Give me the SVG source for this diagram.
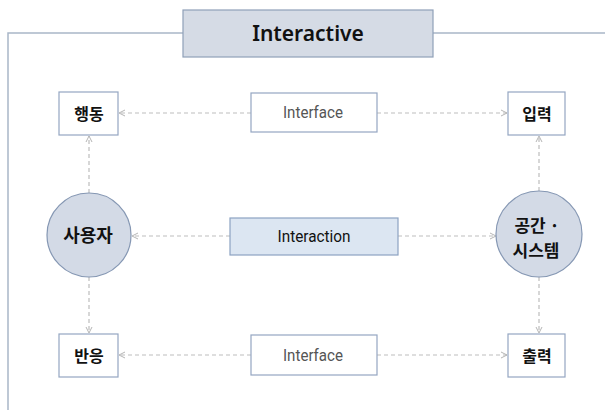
<svg xmlns="http://www.w3.org/2000/svg" width="605" height="410" viewBox="0 0 605 410">
  <defs>
    <marker id="arr" viewBox="0 0 8 8" refX="7" refY="4" markerWidth="8" markerHeight="8" markerUnits="userSpaceOnUse" orient="auto">
      <path d="M1,1 L7,4 L1,7" fill="none" stroke="#b5b5b5" stroke-width="1"/>
    </marker>
    <style>
      .frame { fill: none; stroke: #a9b6c8; stroke-width: 1.5; }
      .box { fill: #ffffff; stroke: #94a6c2; stroke-width: 1.2; }
      .circ { fill: #d3dae6; stroke: #8597b3; stroke-width: 1.2; }
      .ko { font-family: "Noto Sans CJK KR", "Noto Sans", sans-serif; font-weight: bold; fill: #111; text-anchor: middle; }
      .lat { font-family: Roboto, "Liberation Sans", sans-serif; text-anchor: middle; }
      .conn line { stroke: #bdbdbd; stroke-width: 1.2; stroke-dasharray: 4 3; marker-end: url(#arr); }
    </style>
  </defs>

  <!-- outer frame -->
  <path class="frame" d="M8,410 V33 H183 M433,33 H605"/>

  <!-- title -->
  <g id="title">
    <rect x="183" y="10" width="250" height="47" fill="#d5dbe5" stroke="#8fa0b8" stroke-width="1.2"/>
    <text x="308" y="41" font-family="'Noto Sans', 'Open Sans', sans-serif" font-weight="600" font-size="21" text-anchor="middle" fill="#111">Interactive</text>
  </g>

  <!-- connectors -->
  <g id="connectors" class="conn">
    <line x1="251" y1="113" x2="119" y2="113"/>
    <line x1="377" y1="113" x2="507" y2="113"/>
    <line x1="230" y1="236" x2="132" y2="236"/>
    <line x1="398" y1="236" x2="496" y2="236"/>
    <line x1="89" y1="193" x2="89" y2="136"/>
    <line x1="89" y1="277" x2="89" y2="333"/>
    <line x1="539" y1="191" x2="539" y2="136"/>
    <line x1="539" y1="277" x2="539" y2="333"/>
    <line x1="251" y1="355" x2="119" y2="355"/>
    <line x1="377" y1="355" x2="507" y2="355"/>
  </g>

  <g id="n-action">
    <rect class="box" x="59" y="92" width="59" height="43"/>
    <text class="ko" x="89" y="120" font-size="16">행동</text>
  </g>
  <g id="n-interface-top">
    <rect class="box" x="251" y="93" width="126" height="39"/>
    <text class="lat" x="313" y="118" font-size="16" fill="#555" textLength="60" lengthAdjust="spacingAndGlyphs">Interface</text>
  </g>
  <g id="n-input">
    <rect class="box" x="508" y="92" width="57" height="43"/>
    <text class="ko" x="537" y="120" font-size="16">입력</text>
  </g>

  <g id="n-user">
    <circle class="circ" cx="89" cy="235" r="42"/>
    <text class="ko" x="88" y="242" font-size="18">사용자</text>
  </g>
  <g id="n-interaction">
    <rect x="230" y="218" width="168" height="37" fill="#dce6f2" stroke="#8ca2c2" stroke-width="1.2"/>
    <text class="lat" x="314" y="242" font-size="16" fill="#111" textLength="73" lengthAdjust="spacingAndGlyphs">Interaction</text>
  </g>
  <g id="n-system">
    <circle class="circ" cx="539" cy="234" r="43"/>
    <text class="ko" x="537" y="232" font-size="17">공간 ·</text>
    <text class="ko" x="536" y="257" font-size="17">시스템</text>
  </g>

  <g id="n-reaction">
    <rect class="box" x="59" y="334" width="59" height="43"/>
    <text class="ko" x="89" y="362" font-size="16">반응</text>
  </g>
  <g id="n-interface-bottom">
    <rect class="box" x="251" y="335" width="126" height="40"/>
    <text class="lat" x="313" y="361" font-size="16" fill="#555" textLength="60" lengthAdjust="spacingAndGlyphs">Interface</text>
  </g>
  <g id="n-output">
    <rect class="box" x="508" y="334" width="57" height="43"/>
    <text class="ko" x="537" y="362" font-size="16">출력</text>
  </g>
</svg>
